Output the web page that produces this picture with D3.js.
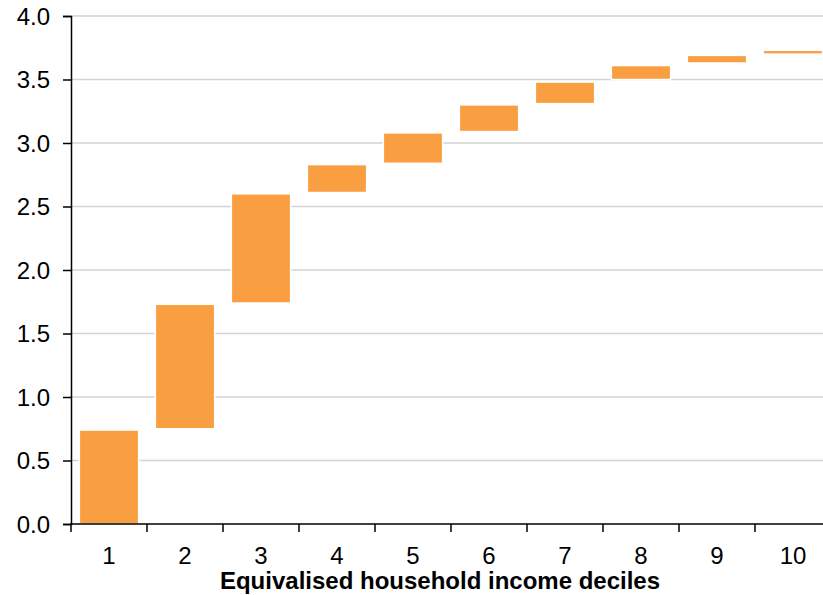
<!DOCTYPE html>
<html>
<head>
<meta charset="utf-8">
<script src="https://cdn.jsdelivr.net/npm/d3@7"></script>
<style>
  body { margin: 0; background: #fff; }
  svg { display: block; font-family: "Liberation Sans", Arial, sans-serif; }
</style>
</head>
<body>
<svg id="chart" width="823" height="595"></svg>
<script>
const deciles = ["1", "2", "3", "4", "5", "6", "7", "8", "9", "10"];
const barLow = [0, 0.75, 1.74, 2.61, 2.84, 3.09, 3.31, 3.50, 3.63, 3.70];
const barHigh = [0.74, 1.73, 2.60, 2.83, 3.08, 3.30, 3.48, 3.61, 3.69, 3.73];
const yTicks = [0, 0.5, 1, 1.5, 2, 2.5, 3, 3.5, 4];

const margin = { left: 71, right: -8, top: 16, bottom: 71 };
const width = 823, height = 595;

const svg = d3.select("#chart");

const x = d3.scaleBand()
  .domain(deciles)
  .range([margin.left, width - margin.right])
  .paddingInner(0.22)
  .paddingOuter(0.11);

const y = d3.scaleLinear()
  .domain([0, 4])
  .range([height - margin.bottom, margin.top]);

// gridlines
svg.append("g")
  .selectAll("line")
  .data(yTicks.filter((d) => d > 0))
  .join("line")
  .attr("x1", margin.left)
  .attr("x2", width)
  .attr("y1", (d) => y(d))
  .attr("y2", (d) => y(d))
  .attr("stroke", "#d3d3d3")
  .attr("stroke-width", 1.5);

// floating bars
svg.append("g")
  .selectAll("rect")
  .data(deciles)
  .join("rect")
  .attr("x", (d) => x(d))
  .attr("width", x.bandwidth())
  .attr("y", (d, i) => y(barHigh[i]))
  .attr("height", (d, i) => y(barLow[i]) - y(barHigh[i]))
  .attr("fill", "#f99f41")
  .attr("stroke", "#fff")
  .attr("stroke-width", 1.5);

// y axis
const yAxis = svg.append("g")
  .attr("transform", `translate(${margin.left},0)`)
  .call(d3.axisLeft(y).tickValues(yTicks).tickFormat(d3.format(".1f")).tickSize(8).tickPadding(15));

yAxis.attr("font-family", null).attr("font-size", null);
yAxis.select(".domain").attr("stroke-width", 1.5);
yAxis.selectAll(".tick line").attr("stroke-width", 1.5);
yAxis.selectAll(".tick text")
  .attr("font-size", 24)
  .attr("fill", "#000")
  .attr("x", -21)
  .attr("dy", "0.34em");

// x axis: ticks at band boundaries
const xAxis = svg.append("g")
  .attr("transform", `translate(0,${y(0)})`);
xAxis.append("line")
  .attr("x1", margin.left - 1)
  .attr("x2", width)
  .attr("stroke", "#000")
  .attr("stroke-width", 1.5);
const step = x.step();
xAxis.selectAll(".tk")
  .data(deciles)
  .join("line")
  .attr("class", "tk")
  .attr("x1", (d) => x(d) - (x.paddingInner() * step) / 2)
  .attr("x2", (d) => x(d) - (x.paddingInner() * step) / 2)
  .attr("y1", 0)
  .attr("y2", 8)
  .attr("stroke", "#000")
  .attr("stroke-width", 1.5);
xAxis.selectAll("text")
  .data(deciles)
  .join("text")
  .attr("x", (d) => x(d) + x.bandwidth() / 2)
  .attr("y", 40)
  .attr("text-anchor", "middle")
  .attr("font-size", 24)
  .attr("fill", "#000")
  .text((d) => d);

svg.append("text")
  .attr("x", 440)
  .attr("y", 589)
  .attr("text-anchor", "middle")
  .attr("font-size", 24)
  .attr("font-weight", "bold")
  .text("Equivalised household income deciles");
</script>
</body>
</html>
